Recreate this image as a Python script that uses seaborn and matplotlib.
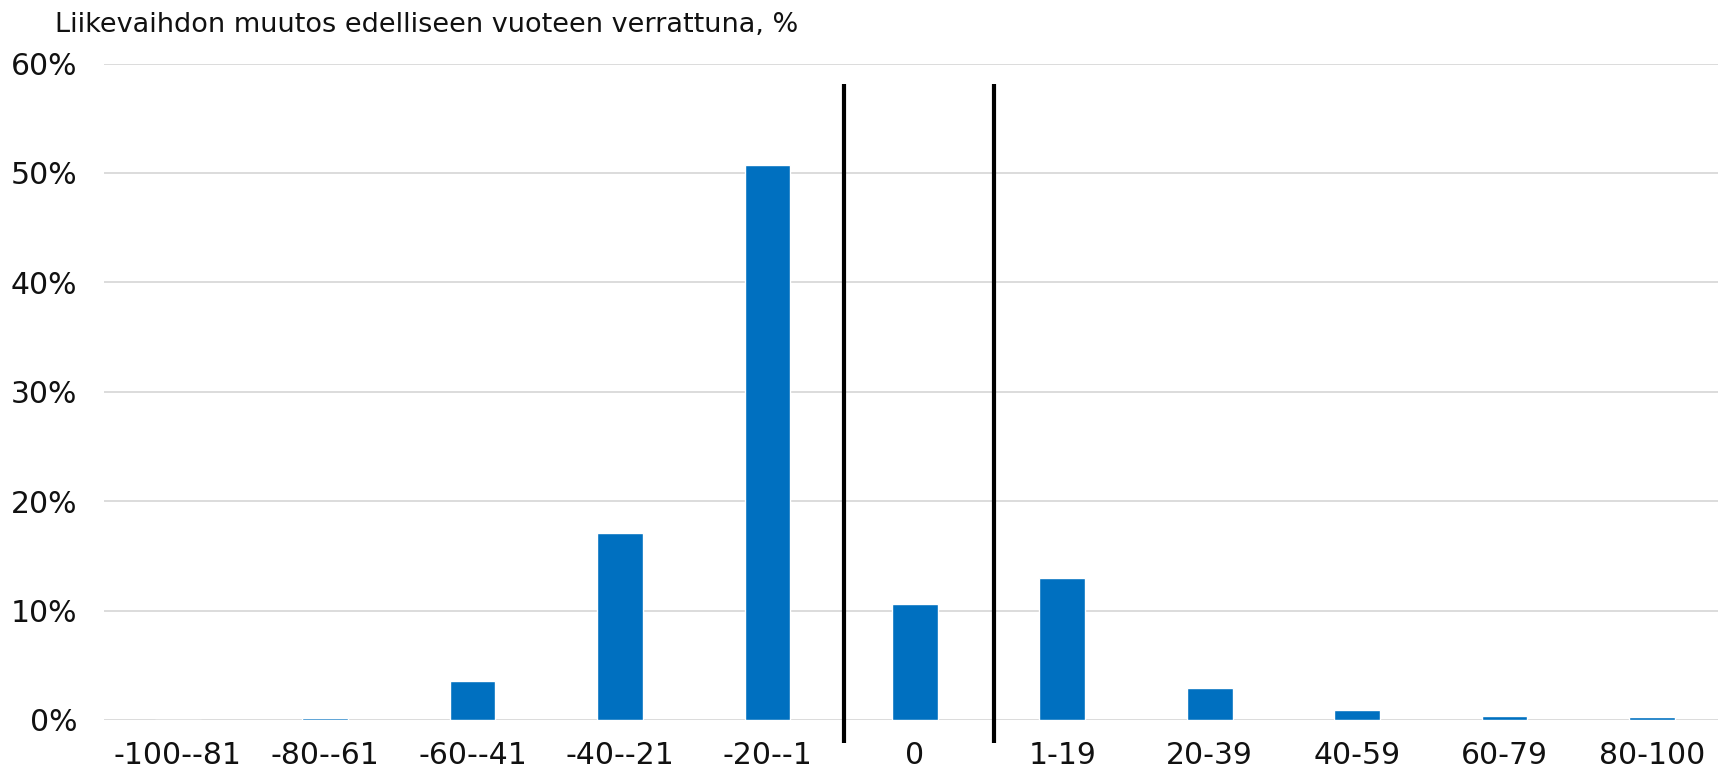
import matplotlib.pyplot as plt
import numpy as np
import pandas as pd
import seaborn as sns
from matplotlib.ticker import PercentFormatter

# data
categories = ["-100--81", "-80--61", "-60--41", "-40--21", "-20--1", "0",
              "1-19", "20-39", "40-59", "60-79", "80-100"]
shares = [0.0, 0.15, 3.6, 17.1, 50.7, 10.6, 13.0, 2.9, 0.9, 0.4, 0.25]
y_ticks = [0, 10, 20, 30, 40, 50, 60]
title = "Liikevaihdon muutos edelliseen vuoteen verrattuna, %"
# separator lines sit between "-20--1" / "0" and "0" / "1-19"
separators = [4.52, 5.54]


def draw(data):
    sns.set_style("white")
    plt.rcParams["font.family"] = ["DejaVu Sans"]

    fig = plt.figure(figsize=(17.18, 7.70), dpi=100)
    ax = fig.add_axes([0.0605, 0.065, 0.944, 0.8525])

    sns.barplot(x="category", y="share", data=data, color="#0070C0",
                width=0.31, saturation=1, ax=ax, zorder=3)

    ax.set_ylim(0, 60)
    ax.set_xlim(-0.5, len(categories) - 0.5)
    ax.set_yticks(y_ticks)
    ax.yaxis.set_major_formatter(PercentFormatter(decimals=0))
    ax.grid(axis="y", color="#d9d9d9", linewidth=1.3, zorder=0)
    ax.set_xlabel("")
    ax.set_ylabel("")
    sns.despine(ax=ax, left=True, bottom=True, top=True, right=True)
    ax.tick_params(axis="both", length=0, labelsize=21.5, labelcolor="#111111")
    ax.tick_params(axis="y", pad=19)
    ax.tick_params(axis="x", pad=15)

    # black separators around the "0" category
    for x in separators:
        ax.plot([x, x], [58.1, -2.1], color="black", linewidth=3,
                solid_capstyle="butt", clip_on=False, zorder=4)

    fig.text(0.032, 0.985, title, fontsize=19.5, va="top", ha="left",
             color="#111111")

    fig.savefig("out.png", dpi=100)


def main():
    data = pd.DataFrame({"category": categories, "share": shares})
    draw(data)


if __name__ == "__main__":
    main()
